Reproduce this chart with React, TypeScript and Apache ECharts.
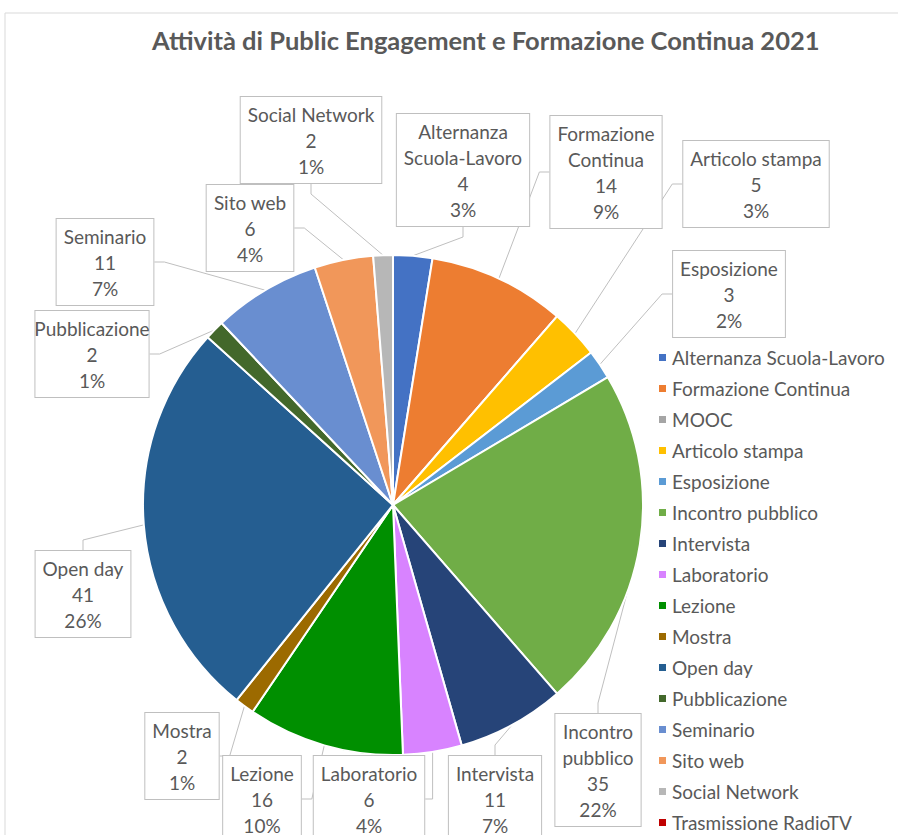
import React, { useEffect, useRef } from "react";
import * as echarts from "echarts";

const categories = [
  "Alternanza Scuola-Lavoro",
  "Formazione Continua",
  "MOOC",
  "Articolo stampa",
  "Esposizione",
  "Incontro pubblico",
  "Intervista",
  "Laboratorio",
  "Lezione",
  "Mostra",
  "Open day",
  "Pubblicazione",
  "Seminario",
  "Sito web",
  "Social Network",
  "Trasmissione RadioTV",
];
const labelNames = [
  "Alternanza\nScuola-Lavoro",
  "Formazione\nContinua",
  "MOOC",
  "Articolo stampa",
  "Esposizione",
  "Incontro\npubblico",
  "Intervista",
  "Laboratorio",
  "Lezione",
  "Mostra",
  "Open day",
  "Pubblicazione",
  "Seminario",
  "Sito web",
  "Social Network",
  "Trasmissione RadioTV",
];
const values = [4, 14, 0, 5, 3, 35, 11, 6, 16, 2, 41, 2, 11, 6, 2, 0];
const colors = [
  "#4472C4",
  "#ED7D31",
  "#A5A5A5",
  "#FFC000",
  "#5B9BD5",
  "#70AD47",
  "#264478",
  "#D883FF",
  "#008F00",
  "#9C6A00",
  "#255E91",
  "#43682B",
  "#698ED0",
  "#F1975A",
  "#B7B7B7",
  "#C00000",
];
// label box centres (layout styling)
const labelPos: ([number, number] | null)[] = [
  [463, 170],
  [606, 172],
  null,
  [756, 184],
  [729, 294],
  [598, 770],
  [495, 799],
  [369, 799],
  [262, 799],
  [182, 756],
  [83, 594],
  [92, 354],
  [105, 262],
  [250, 228],
  [311, 140],
  null,
];

export default function App() {
  const ref = useRef<HTMLDivElement>(null);
  useEffect(() => {
    if (!ref.current) return;
    const chart = echarts.init(ref.current, undefined, { renderer: "svg" });
    const font = "Lato, 'Noto Sans', sans-serif";
    chart.setOption({
      animation: false,
      backgroundColor: "#ffffff",
      textStyle: { fontFamily: font },
      title: {
        text: "Attività di Public Engagement e Formazione Continua 2021",
        left: 152,
        top: 27,
        padding: 0,
        textStyle: { fontSize: 25.5, fontWeight: "bold", color: "#595959", fontFamily: font },
      },
      graphic: [
        {
          type: "rect",
          shape: { x: 5, y: 13, width: 1000, height: 1000 },
          style: { fill: "none", stroke: "#d9d9d9", lineWidth: 1 },
          silent: true,
        },
      ],
      legend: {
        orient: "vertical",
        left: 657,
        top: 348,
        height: 540,
        padding: 0,
        itemWidth: 9,
        itemHeight: 9,
        itemGap: 12,
        icon: "rect",
        data: categories,
        textStyle: { fontSize: 19, lineHeight: 19, color: "#595959", fontFamily: font },
      },
      series: [
        {
          type: "pie",
          center: [393, 505],
          radius: 250,
          startAngle: 90,
          clockwise: true,
          itemStyle: { borderColor: "#ffffff", borderWidth: 2 },
          label: {
            show: true,
            position: "outside",
            formatter: (p: any) =>
              `${labelNames[p.dataIndex]}\n${p.value}\n${Math.round(p.percent)}%`,
            fontSize: 19,
            lineHeight: 26,
            color: "#595959",
            fontFamily: font,
            backgroundColor: "#ffffff",
            borderColor: "#bfbfbf",
            borderWidth: 1,
            padding: [4, 7],
            align: "center",
            overflow: "none",
          },
          labelLine: {
            show: true,
            length: 10,
            length2: 10,
            lineStyle: { color: "#bfbfbf", width: 1 },
          },
          labelLayout: (params: any) => {
            const pos = labelPos[params.dataIndex];
            if (!pos) return {};
            return { x: pos[0], y: pos[1], align: "center", verticalAlign: "middle" };
          },
          data: categories.map((name, i) => {
            const item: any = { name, value: values[i], itemStyle: { color: colors[i] } };
            if (values[i] === 0) {
              item.label = { show: false };
              item.labelLine = { show: false };
            }
            return item;
          }),
        },
      ],
    });
    return () => chart.dispose();
  }, []);
  return (
    <div
      ref={ref}
      style={{ position: "fixed", left: 0, top: 0, width: 898, height: 835 }}
    />
  );
}
